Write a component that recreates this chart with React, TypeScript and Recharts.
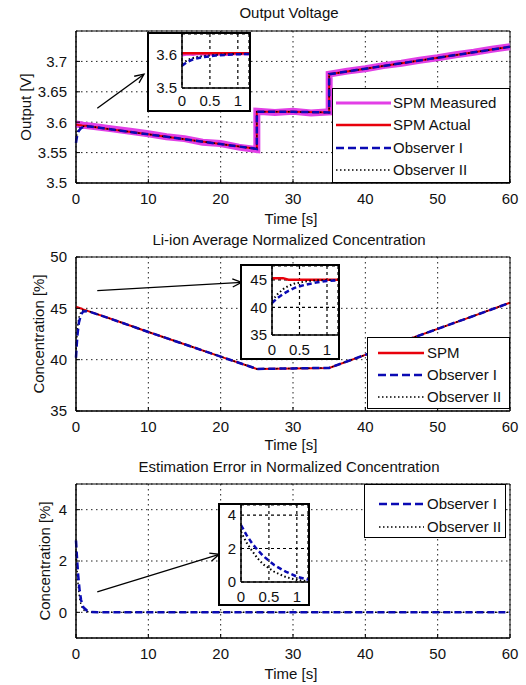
import React from 'react';
import {
  LineChart,
  Line,
  XAxis,
  YAxis,
  CartesianGrid,
  ReferenceArea,
  ReferenceLine,
  Legend,
} from 'recharts';

const FONT = "'Liberation Sans', Arial, Helvetica, sans-serif";
const INK = '#111';
const MAGENTA = '#e23fe6';
const RED = '#e8000b';
const BLUE = '#0a0ab4';

// ---- shared ticks ----
const timeTicks = [0, 10, 20, 30, 40, 50, 60];
const insetTimeTicks = [0, 0.5, 1];
const voltTicks = [3.5, 3.55, 3.6, 3.65, 3.7];
const concTicks = [35, 40, 45, 50];
const errTicks = [0, 2, 4];

// ---- Output Voltage ----
const measTime = [0, 1, 2.5, 5, 7.5, 10, 12.5, 15, 17.5, 20, 22.5, 25, 25, 27.5, 30, 32.5, 35, 35, 37.5, 40, 42.5, 45, 47.5, 50, 52.5, 55, 57.5, 60];
const voltMeasured = [3.597, 3.595, 3.593, 3.589, 3.585, 3.581, 3.576, 3.573, 3.567, 3.565, 3.559, 3.555, 3.618, 3.616, 3.618, 3.615, 3.617, 3.679, 3.684, 3.688, 3.693, 3.697, 3.702, 3.706, 3.711, 3.715, 3.720, 3.724];
const voltTime = [0, 0.1, 0.2, 0.4, 0.7, 1, 1.5, 2, 5, 10, 15, 20, 25, 25, 30, 35, 35, 40, 45, 50, 55, 60];
const voltActual = [3.596, 3.596, 3.596, 3.595, 3.595, 3.594, 3.594, 3.593, 3.588, 3.58, 3.572, 3.564, 3.556, 3.617, 3.617, 3.616, 3.679, 3.688, 3.697, 3.706, 3.715, 3.724];
const voltObs1 = [3.566, 3.574, 3.58, 3.586, 3.59, 3.592, 3.593, 3.593, 3.588, 3.58, 3.572, 3.564, 3.556, 3.617, 3.617, 3.616, 3.679, 3.688, 3.697, 3.706, 3.715, 3.724];
const voltObs2 = [3.571, 3.579, 3.584, 3.589, 3.592, 3.593, 3.594, 3.593, 3.588, 3.58, 3.572, 3.564, 3.556, 3.617, 3.617, 3.616, 3.679, 3.688, 3.697, 3.706, 3.715, 3.724];

// ---- Li-ion Average Normalized Concentration ----
const concTime = [0, 0.1, 0.2, 0.4, 0.7, 1, 1.5, 2, 5, 10, 15, 20, 25, 30, 35, 40, 45, 50, 55, 60];
const concSpm = [45.15, 45.13, 45.1, 45.06, 44.98, 44.9, 44.78, 44.66, 43.93, 42.7, 41.5, 40.3, 39.1, 39.15, 39.2, 40.47, 41.74, 43.0, 44.27, 45.55];
const concObs1 = [40.2, 41.4, 42.4, 43.6, 44.4, 44.7, 44.72, 44.64, 43.93, 42.7, 41.5, 40.3, 39.1, 39.15, 39.2, 40.47, 41.74, 43.0, 44.27, 45.55];
const concObs2 = [40.6, 42.0, 43.1, 44.1, 44.7, 44.85, 44.78, 44.66, 43.93, 42.7, 41.5, 40.3, 39.1, 39.15, 39.2, 40.47, 41.74, 43.0, 44.27, 45.55];

// ---- Estimation Error in Normalized Concentration ----
const errTime = [0, 0.1, 0.2, 0.3, 0.5, 0.7, 1, 1.5, 2, 3, 10, 20, 30, 40, 50, 60];
const errObs1 = [2.8, 2.3, 1.85, 1.45, 0.85, 0.48, 0.2, 0.07, 0.02, 0, 0, 0, 0, 0, 0, 0];
const errObs2 = [2.4, 1.85, 1.4, 1.05, 0.55, 0.28, 0.1, 0.03, 0.01, 0, 0, 0, 0, 0, 0, 0];

// ---- zoomed insets (first 1.2 s) ----
const insetTime = [0, 0.1, 0.2, 0.3, 0.4, 0.6, 0.8, 1.0, 1.2];
const insVoltActual = [3.603, 3.603, 3.603, 3.603, 3.603, 3.603, 3.603, 3.603, 3.603];
const insVoltMeasured = [3.598, 3.601, 3.599, 3.602, 3.6, 3.601, 3.599, 3.602, 3.601];
const insVoltObs1 = [3.566, 3.578, 3.585, 3.589, 3.592, 3.596, 3.598, 3.6, 3.601];
const insVoltObs2 = [3.572, 3.583, 3.589, 3.593, 3.595, 3.598, 3.6, 3.601, 3.601];
const insConcSpm = [45.3, 45.3, 45.3, 45.0, 45.0, 45.0, 45.0, 45.0, 45.0];
const insConcObs1 = [40.8, 41.7, 42.4, 43.0, 43.5, 44.1, 44.5, 44.8, 44.9];
const insConcObs2 = [41.2, 42.4, 43.3, 43.9, 44.3, 44.7, 44.9, 44.95, 45.0];
const insErrObs1 = [3.4, 2.8, 2.3, 1.9, 1.55, 1.0, 0.62, 0.32, 0.14];
const insErrObs2 = [3.0, 2.35, 1.85, 1.4, 1.05, 0.6, 0.3, 0.12, 0.05];

const pts = (xs: number[], ys: number[]) => xs.map((t, i) => ({ t, v: ys[i] }));

type Series = { name: string; color: string; width: number; dash?: string; data: { t: number; v: number }[] };
type Pt = { x: number; y: number };

const renderLines = (list: Series[]) =>
  list.map((s) => (
    <Line
      key={s.name}
      data={s.data}
      dataKey="v"
      type="linear"
      stroke={s.color}
      strokeWidth={s.width}
      strokeDasharray={s.dash}
      dot={false}
      activeDot={false}
      isAnimationActive={false}
    />
  ));

// arrow from the curve to the inset
const ArrowShape = (props: any) => {
  const { x1, y1, x2, y2 } = props;
  const a = Math.atan2(y2 - y1, x2 - x1);
  const L = 10;
  const w = 0.42;
  const hx1 = x2 - L * Math.cos(a - w);
  const hy1 = y2 - L * Math.sin(a - w);
  const hx2 = x2 - L * Math.cos(a + w);
  const hy2 = y2 - L * Math.sin(a + w);
  return (
    <g>
      <line x1={x1} y1={y1} x2={x2} y2={y2} stroke="#000" strokeWidth={1.3} />
      <path d={`M${hx1},${hy1} L${x2},${y2} L${hx2},${hy2}`} fill="none" stroke="#000" strokeWidth={1.3} />
    </g>
  );
};

type LegendCfg = {
  rows: { name: string; color: string; width: number; dash?: string }[];
  left: number; top: number; w: number; h: number;
  firstRow: number; gap: number; sx: number; sw: number; tx: number;
};

const LegendBox = ({ rows, w, h, firstRow, gap, sx, sw, tx }: LegendCfg) => (
  <div style={{ position: 'relative', width: w, height: h, boxSizing: 'border-box', border: '1.5px solid #000', background: '#fff', fontFamily: FONT }}>
    {rows.map((r, i) => {
      const cy = firstRow + i * gap;
      return (
        <React.Fragment key={r.name}>
          <svg style={{ position: 'absolute', left: 0, top: cy - 6 }} width={sx + sw} height={12}>
            <line x1={sx} x2={sx + sw} y1={6} y2={6} stroke={r.color} strokeWidth={r.width} strokeDasharray={r.dash} />
          </svg>
          <span style={{ position: 'absolute', left: tx, top: cy - 9, fontSize: 15, lineHeight: '18px', color: INK, whiteSpace: 'nowrap' }}>
            {r.name}
          </span>
        </React.Fragment>
      );
    })}
  </div>
);

type InsetCfg = {
  left: number; top: number; w: number; h: number;
  yAxisW: number; xAxisH: number; xTickGap: number;
  yDomain: [number, number]; yTicks: number[]; lines: Series[];
};

const Inset = ({ left, top, w, h, yAxisW, xAxisH, xTickGap, yDomain, yTicks, lines }: InsetCfg) => (
  <div style={{ position: 'absolute', left: left - 2, top: top - 2, width: w, height: h, border: '2px solid #000', background: '#fff' }}>
    <LineChart width={w} height={h} margin={{ top: 0, right: 0, bottom: 0, left: 0 }}>
      <CartesianGrid stroke="#000" strokeDasharray="3 3" strokeWidth={1.2} />
      <XAxis
        dataKey="t"
        type="number"
        domain={[0, 1.2]}
        ticks={insetTimeTicks}
        interval={0}
        height={xAxisH}
        tickSize={0}
        tickMargin={xTickGap}
        tick={{ fontSize: 15, fill: INK }}
        axisLine={{ stroke: '#000', strokeWidth: 1.5 }}
        allowDataOverflow
      />
      <YAxis
        type="number"
        domain={yDomain}
        ticks={yTicks}
        interval={0}
        width={yAxisW}
        tickSize={0}
        tickMargin={5}
        tick={{ fontSize: 15, fill: INK }}
        axisLine={{ stroke: '#000', strokeWidth: 1.5 }}
        allowDataOverflow
      />
      {renderLines(lines)}
    </LineChart>
  </div>
);

type PanelCfg = {
  top: number; height: number; plotTop: number; xAxisH: number;
  title: string; titleY: number; yLabel: string; yLabelX: number; xLabelDy: number;
  yDomain: [number, number]; yTicks: number[];
  lines: Series[]; arrow: [Pt, Pt]; legend: LegendCfg; inset: InsetCfg;
};

const Panel = (p: PanelCfg) => (
  <div style={{ position: 'absolute', left: 0, top: p.top, width: 526, height: p.height }}>
    <div style={{ position: 'absolute', left: 72, width: 434, top: p.titleY - 9, lineHeight: '18px', fontSize: 15, textAlign: 'center', color: INK }}>
      {p.title}
    </div>
    <LineChart width={526} height={p.height} margin={{ top: p.plotTop, right: 16, bottom: 0, left: 0 }}>
      <CartesianGrid stroke="#222" strokeDasharray="1.5 3.5" strokeWidth={1} />
      <XAxis
        dataKey="t"
        type="number"
        domain={[0, 60]}
        ticks={timeTicks}
        interval={0}
        height={p.xAxisH}
        tickSize={-4}
        tickMargin={14}
        tick={{ fontSize: 15, fill: INK }}
        tickLine={{ stroke: '#000' }}
        axisLine={{ stroke: '#000' }}
        label={{
          content: (lp: any) => {
            const vb = lp.viewBox;
            return (
              <text x={vb.x + vb.width / 2 - 2} y={vb.y + p.xLabelDy} textAnchor="middle" dominantBaseline="central" fontSize={15} fill={INK}>
                Time [s]
              </text>
            );
          },
        }}
      />
      <YAxis
        type="number"
        domain={p.yDomain}
        ticks={p.yTicks}
        interval={0}
        width={76}
        tickSize={-4}
        tickMargin={13}
        tick={{ fontSize: 15, fill: INK }}
        tickLine={{ stroke: '#000' }}
        axisLine={{ stroke: '#000' }}
        allowDataOverflow
        label={{
          content: (lp: any) => {
            const vb = lp.viewBox;
            const cy = vb.y + vb.height / 2;
            return (
              <text x={p.yLabelX} y={cy} transform={`rotate(-90 ${p.yLabelX} ${cy})`} textAnchor="middle" dominantBaseline="central" fontSize={15} fill={INK}>
                {p.yLabel}
              </text>
            );
          },
        }}
      />
      <ReferenceArea x1={0} x2={60} y1={p.yDomain[0]} y2={p.yDomain[1]} fill="none" stroke="#000" strokeWidth={1} />
      {renderLines(p.lines)}
      <ReferenceLine segment={p.arrow} shape={ArrowShape} />
      <Legend
        layout="vertical"
        align="center"
        verticalAlign="middle"
        wrapperStyle={{ left: p.legend.left, top: p.legend.top, width: p.legend.w, height: p.legend.h }}
        content={() => <LegendBox {...p.legend} />}
      />
    </LineChart>
    <Inset {...p.inset} />
  </div>
);

const measuredStyle = { color: MAGENTA, width: 3 };
const actualStyle = { color: RED, width: 2.5 };
const obs1Style = { color: BLUE, width: 2.5, dash: '8 4' };
const obs2Style = { color: '#000', width: 1.5, dash: '1.5 2.5' };

export default function App() {
  const voltLines: Series[] = [
    { name: 'SPM Measured', color: MAGENTA, width: 7, data: pts(measTime, voltMeasured) },
    { name: 'SPM Actual', color: RED, width: 2, data: pts(voltTime, voltActual) },
    { name: 'Observer II', color: '#000', width: 1.5, dash: '1.5 2.5', data: pts(voltTime, voltObs2) },
    { name: 'Observer I', color: BLUE, width: 2.5, dash: '7 4', data: pts(voltTime, voltObs1) },
  ];
  const voltInset: Series[] = [
    { name: 'SPM Measured', color: MAGENTA, width: 3, data: pts(insetTime, insVoltMeasured) },
    { name: 'SPM Actual', color: RED, width: 2.5, data: pts(insetTime, insVoltActual) },
    { name: 'Observer II', color: '#000', width: 2, dash: '1.5 2.5', data: pts(insetTime, insVoltObs2) },
    { name: 'Observer I', color: BLUE, width: 2.5, dash: '5 3', data: pts(insetTime, insVoltObs1) },
  ];
  const concLines: Series[] = [
    { name: 'SPM', color: RED, width: 2, data: pts(concTime, concSpm) },
    { name: 'Observer II', color: '#000', width: 1.5, dash: '1.5 2.5', data: pts(concTime, concObs2) },
    { name: 'Observer I', color: BLUE, width: 2.5, dash: '7 4', data: pts(concTime, concObs1) },
  ];
  const concInset: Series[] = [
    { name: 'SPM', color: RED, width: 2.5, data: pts(insetTime, insConcSpm) },
    { name: 'Observer II', color: '#000', width: 2, dash: '1.5 2.5', data: pts(insetTime, insConcObs2) },
    { name: 'Observer I', color: BLUE, width: 2.5, dash: '5 3', data: pts(insetTime, insConcObs1) },
  ];
  const errLines: Series[] = [
    { name: 'Observer II', color: '#000', width: 1.5, dash: '1.5 2.5', data: pts(errTime, errObs2) },
    { name: 'Observer I', color: BLUE, width: 2.5, dash: '7 4', data: pts(errTime, errObs1) },
  ];
  const errInset: Series[] = [
    { name: 'Observer II', color: '#000', width: 2, dash: '1.5 2.5', data: pts(insetTime, insErrObs2) },
    { name: 'Observer I', color: BLUE, width: 2.5, dash: '5 3', data: pts(insetTime, insErrObs1) },
  ];

  return (
    <div style={{ position: 'absolute', left: 0, top: 0, width: 526, height: 685, background: '#fff', fontFamily: FONT, overflow: 'hidden' }}>
      <Panel
        top={0}
        height={228}
        plotTop={31}
        xAxisH={45}
        title="Output Voltage"
        titleY={13}
        yLabel="Output [V]"
        yLabelX={25}
        xLabelDy={35}
        yDomain={[3.5, 3.75]}
        yTicks={voltTicks}
        lines={voltLines}
        arrow={[{ x: 2.94, y: 3.623 }, { x: 9.4, y: 3.679 }]}
        legend={{
          rows: [
            { name: 'SPM Measured', ...measuredStyle },
            { name: 'SPM Actual', ...actualStyle },
            { name: 'Observer I', ...obs1Style },
            { name: 'Observer II', ...obs2Style },
          ],
          left: 332, top: 88, w: 178, h: 95, firstRow: 14, gap: 22.3, sx: 3, sw: 55, tx: 60,
        }}
        inset={{ left: 149, top: 34, w: 100, h: 76, yAxisW: 33, xAxisH: 22, xTickGap: 7, yDomain: [3.5, 3.66], yTicks: [3.5, 3.6], lines: voltInset }}
      />
      <Panel
        top={228}
        height={228}
        plotTop={29}
        xAxisH={45}
        title="Li-ion Average Normalized Concentration"
        titleY={12}
        yLabel="Concentration [%]"
        yLabelX={38}
        xLabelDy={33}
        yDomain={[35, 50]}
        yTicks={concTicks}
        lines={concLines}
        arrow={[{ x: 2.94, y: 46.72 }, { x: 22.9, y: 47.53 }]}
        legend={{
          rows: [
            { name: 'SPM', ...actualStyle },
            { name: 'Observer I', ...obs1Style },
            { name: 'Observer II', ...obs2Style },
          ],
          left: 367, top: 109, w: 143, h: 72, firstRow: 15, gap: 22, sx: 10, sw: 46, tx: 59,
        }}
        inset={{ left: 242, top: 38, w: 96, h: 92, yAxisW: 30, xAxisH: 23, xTickGap: 9, yDomain: [35, 47.5], yTicks: [35, 40, 45], lines: concInset }}
      />
      <Panel
        top={456}
        height={229}
        plotTop={28}
        xAxisH={47}
        title="Estimation Error in Normalized Concentration"
        titleY={11}
        yLabel="Concentration [%]"
        yLabelX={44}
        xLabelDy={35}
        yDomain={[-1, 5]}
        yTicks={errTicks}
        lines={errLines}
        arrow={[{ x: 2.94, y: 0.8 }, { x: 19.8, y: 2.26 }]}
        legend={{
          rows: [
            { name: 'Observer I', ...obs1Style },
            { name: 'Observer II', ...obs2Style },
          ],
          left: 364, top: 28, w: 142, h: 54, firstRow: 19, gap: 23, sx: 14, sw: 45, tx: 62,
        }}
        inset={{ left: 220, top: 49, w: 88, h: 99, yAxisW: 21, xAxisH: 22, xTickGap: 9, yDomain: [0, 4.6], yTicks: errTicks, lines: errInset }}
      />
    </div>
  );
}
